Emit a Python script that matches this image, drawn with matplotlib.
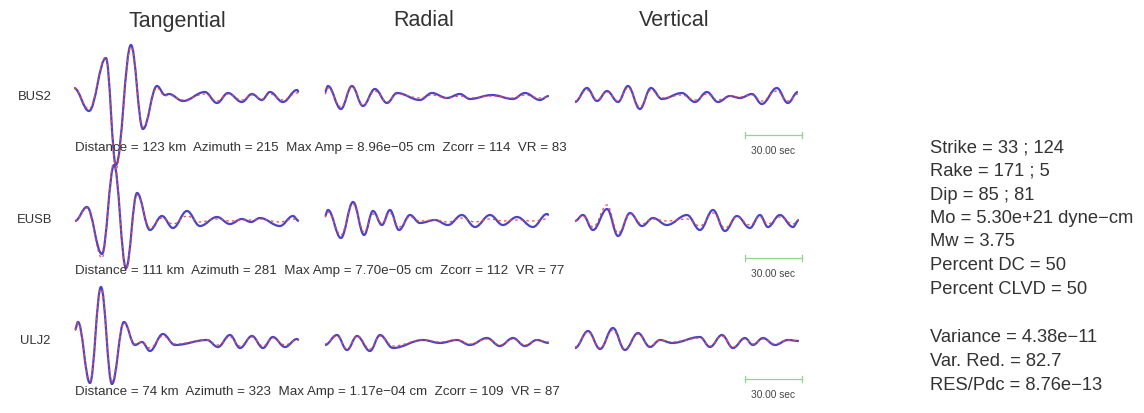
import numpy as np
import matplotlib
matplotlib.use("Agg")
import matplotlib.pyplot as plt
from matplotlib.path import Path
from matplotlib.patches import PathPatch

plt.rcParams['font.family'] = ['Liberation Sans', 'DejaVu Sans']

# ---------------- data ----------------
stations = ["BUS2", "EUSB", "ULJ2"]
components = ["Tangential", "Radial", "Vertical"]
distance_km = [123, 111, 74]
azimuth = [215, 281, 323]
max_amp = ["8.96e\u221205", "7.70e\u221205", "1.17e\u221204"]
zcorr = [114, 112, 109]
vr = [83, 77, 87]

# turning points of each trace: time (s) and relative amplitude
# observed (data) and synthetic amplitudes share the same times
t_bus2_t = [0, 7.9, 16.8, 22.1, 30.0, 36.3, 43.7, 47.9, 50.0, 57.4, 68.9, 75.3, 81.1, 88.4, 93.7, 98.9, 103.2, 110.0, 117.4, 118.4]
d_bus2_t = [9, -14, 39, -68, 52, -32, 11, 2, 3, -4, 5, -6, 4, -5, 3, -3, 5, -5, 7, 5]
s_bus2_t = [9, -12, 40, -72, 50, -30, 9, 1, 2, -3, 3, -4, 3, -3, 2, -2, 3, -3, 4, 4]

t_bus2_r = [0.5, 2.1, 8.9, 14.7, 20.5, 26.8, 33.2, 38.4, 50.5, 56.8, 64.7, 71.6, 76.8, 88.4, 99.5, 105.8, 113.7, 118.4]
d_bus2_r = [5, 11, -12, 11, -9, 8, -6, 4, -3, 4, -1, 3, -2, 2, -2, 4, -3, 1]
s_bus2_r = [3, 9, -10, 10, -8, 6, -5, 3, -1, 2, -1, 1, -1, 1, -1, 2, -1, 0]

t_bus2_z = [0.5, 6.8, 12.1, 17.4, 23.2, 28.4, 34.7, 40.5, 46.3, 56.8, 63.7, 70.0, 75.8, 82.1, 87.4, 93.7, 98.9, 106.8, 112.6, 117.9]
d_bus2_z = [-5, 9, -4, 6, -5, 11, -12, 9, -2, 4, -5, 5, -5, 1, -1, 3, -7, 9, -6, 5]
s_bus2_z = [-4, 7, -3, 5, -4, 9, -10, 7, -1, 2, -3, 3, -3, 1, 0, 2, -4, 6, -4, 3]

t_eusb_t = [0.5, 6.8, 14.7, 21.1, 27.4, 33.2, 40.0, 46.3, 52.1, 59.5, 66.3, 75.3, 82.1, 88.4, 93.2, 97.9, 108.4, 115.3, 118.4]
d_eusb_t = [-1, 13, -34, 55, -48, 27, -10, 4, -8, 9, -6, 3, -4, 1, -2, 2, -6, 4, -1]
s_eusb_t = [-1, 12, -38, 58, -50, 25, -8, 2, -4, 4, -2, 1, -1, 0, 0, 1, -2, 1, 0]

t_eusb_r = [0.5, 2.1, 8.9, 15.3, 21.1, 25.8, 30.5, 34.7, 39.5, 45.3, 50.5, 58.4, 65.3, 72.6, 79.5, 87.4, 94.2, 101.6, 110.0, 117.4, 118.4]
d_eusb_r = [4, 10, -18, 18, -15, 9, -5, 10, -10, 5, -3, 0, -5, 5, -7, 5, -5, 3, -7, 6, 5]
s_eusb_r = [3, 8, -15, 16, -12, 6, -3, 7, -7, 3, -1, 0, -2, 2, -2, 1, -1, 0, -1, 1, 1]

t_eusb_z = [0.5, 4.7, 10.0, 17.4, 23.2, 29.5, 35.8, 41.6, 48.9, 59.5, 66.3, 73.2, 79.5, 85.8, 92.6, 97.9, 102.1, 108.4, 115.3, 118.4]
d_eusb_z = [-1, 5, -10, 11, -16, 7, -6, 2, -5, 5, -10, 10, -11, 4, -8, 5, -7, 5, -7, 0]
s_eusb_z = [-1, 4, -7, 15, -13, 6, -4, 1, -1, 1, -6, 7, -8, 3, -5, 3, -4, 3, -4, 0]

t_ulj2_t = [0.5, 2.1, 8.4, 14.2, 20.0, 26.3, 32.1, 35.8, 40.0, 46.8, 53.2, 70.0, 75.8, 82.1, 87.4, 93.7, 99.5, 104.7, 111.1, 117.4, 118.4]
d_ulj2_t = [11, 19, -42, 54, -43, 19, -4, -1, -10, 7, -4, 1, -6, 6, -7, 5, -7, 4, -6, 2, 1]
s_ulj2_t = [11, 18, -40, 52, -40, 18, -3, -1, -7, 5, -3, 1, -4, 4, -5, 4, -5, 3, -4, 1, 1]

t_ulj2_r = [0.5, 6.8, 12.1, 17.4, 24.2, 29.5, 36.3, 52.1, 61.1, 70.0, 76.8, 85.8, 92.6, 99.5, 105.8, 112.1, 118.4]
d_ulj2_r = [-4, 6, -9, 5, -10, 6, -7, 1, -2, 1, -4, 3, -5, 3, -5, 1, -2]
s_ulj2_r = [-3, 5, -8, 5, -8, 5, -5, 1, -1, 1, -3, 2, -4, 2, -4, 1, -1]

t_ulj2_z = [0.5, 7.4, 13.7, 20.5, 26.8, 33.7, 40.0, 45.3, 51.6, 66.3, 71.6, 77.9, 83.7, 90.0, 94.2, 99.5, 105.8, 112.6, 118.4]
d_ulj2_z = [-7, 10, -8, 13, -9, 8, -6, 1, -2, 4, -6, 6, -7, 3, -4, 3, -4, 1, 0]
s_ulj2_z = [-6, 9, -7, 11, -8, 7, -5, 1, -1, 3, -5, 5, -6, 2, -3, 2, -3, 1, 0]

times = [[t_bus2_t, t_bus2_r, t_bus2_z], [t_eusb_t, t_eusb_r, t_eusb_z], [t_ulj2_t, t_ulj2_r, t_ulj2_z]]
data = [[d_bus2_t, d_bus2_r, d_bus2_z], [d_eusb_t, d_eusb_r, d_eusb_z], [d_ulj2_t, d_ulj2_r, d_ulj2_z]]
synth = [[s_bus2_t, s_bus2_r, s_bus2_z], [s_eusb_t, s_eusb_r, s_eusb_z], [s_ulj2_t, s_ulj2_r, s_ulj2_z]]

scale_bar_sec = 30.0
scale_label = "30.00 sec"

mech_lines = ["Strike = 33 ; 124", "Rake = 171 ; 5", "Dip = 85 ; 81",
              "Mo = 5.30e+21 dyne\u2212cm", "Mw = 3.75", "Percent DC = 50", "Percent CLVD = 50"]
fit_lines = ["Variance = 4.38e\u221211", "Var. Red. = 82.7", "RES/Pdc = 8.76e\u221213"]

# ---------------- layout (pixels) ----------------
W, H = 1144, 413
col_x0 = [74, 324, 574]
panel_w = 226
trace_len = 119.0
row_base = [97, 220, 341]
half_h = 80
txt_col = "#333333"

fig = plt.figure(figsize=(W / 100, H / 100), dpi=100)
fig.patch.set_facecolor("white")


def fx(x):
    return x / W


def fy(y):
    return 1 - y / H


def smooth_path(t, a, k=0.38):
    verts = [(t[0], a[0])]
    codes = [Path.MOVETO]
    for i in range(len(t) - 1):
        dt = t[i + 1] - t[i]
        verts += [(t[i] + k * dt, a[i]), (t[i + 1] - k * dt, a[i + 1]), (t[i + 1], a[i + 1])]
        codes += [Path.CURVE4] * 3
    return Path(verts, codes)


for r in range(3):
    yb = row_base[r]
    for c in range(3):
        ax = fig.add_axes([fx(col_x0[c]), (H - yb - half_h) / H, panel_w / W, 2 * half_h / H])
        ax.set_xlim(0, trace_len)
        ax.set_ylim(-half_h, half_h)
        ax.axis("off")
        obs = PathPatch(smooth_path(times[r][c], data[r][c]), fill=False,
                        edgecolor="#4b43c9", lw=1.6, clip_on=False, zorder=2)
        syn = PathPatch(smooth_path(times[r][c], synth[r][c]), fill=False,
                        edgecolor="#ee4a44", lw=0.9, linestyle=(0, (2, 2.5)),
                        clip_on=False, zorder=3)
        ax.add_patch(obs)
        ax.add_patch(syn)
        if c == 2:
            ybar = -38
            x1 = trace_len + 1
            x0 = x1 - scale_bar_sec
            ax.plot([x0, x1], [ybar, ybar], color="#8fd68f", lw=0.9, clip_on=False)
            ax.plot([x0, x0], [ybar - 3, ybar + 3], color="#8fd68f", lw=0.9, clip_on=False)
            ax.plot([x1, x1], [ybar - 3, ybar + 3], color="#8fd68f", lw=0.9, clip_on=False)
            ax.text((x0 + x1) / 2, ybar - 16, scale_label, ha="center", va="center",
                    fontsize=7.3, color="#444444")

    fig.text(fx(35), fy(yb), stations[r], ha="center", va="center", fontsize=9.4, color=txt_col)
    line = (f"Distance = {distance_km[r]} km  Azimuth = {azimuth[r]}  Max Amp = {max_amp[r]} cm  "
            f"Zcorr = {zcorr[r]}  VR = {vr[r]}")
    fig.text(fx(75), fy(yb + 51), line, ha="left", va="center", fontsize=9.6, color=txt_col)

title_x = [177, 424, 674]
for c in range(3):
    fig.text(fx(title_x[c]), fy(21), components[c], ha="center", va="center", fontsize=15.5, color=txt_col)

for i, s in enumerate(mech_lines):
    fig.text(fx(930), fy(148 + 23.5 * i), s, ha="left", va="center", fontsize=13.2, color=txt_col)
for i, s in enumerate(fit_lines):
    fig.text(fx(930), fy(338 + 23.5 * i), s, ha="left", va="center", fontsize=13.2, color=txt_col)

fig.savefig("out.png", dpi=100, facecolor="white")
